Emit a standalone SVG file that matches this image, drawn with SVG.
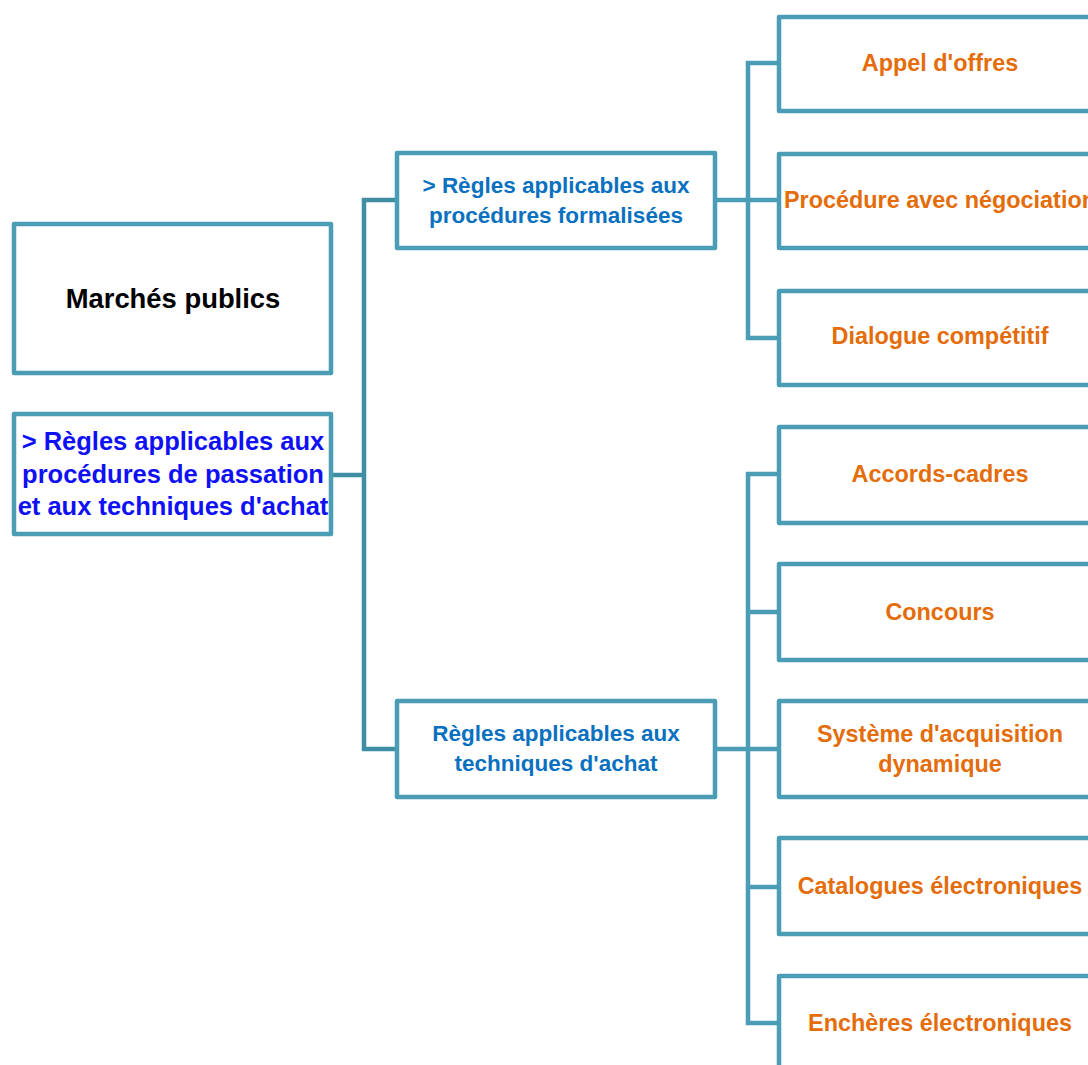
<svg xmlns="http://www.w3.org/2000/svg" width="1088" height="1065" viewBox="0 0 1088 1065">
<style>
.box{fill:#ffffff;stroke:#4a9db5;stroke-width:4.5;stroke-linejoin:round}
.ln{fill:none;stroke:#4a9db5;stroke-width:4.5;stroke-linejoin:miter}
.ln2{fill:none;stroke:#3f8ea3;stroke-width:4.5}
text{font-family:"Liberation Sans",Arial,sans-serif;font-weight:bold;text-anchor:middle}
.k{fill:#000000;font-size:27.4px}
.b{fill:#1010f5;font-size:25.5px}
.m{fill:#0a70c0;font-size:22.5px}
.o{fill:#e46c0a;font-size:23.4px}
</style>
<rect width="1088" height="1065" fill="#ffffff"/>
<g id="connectors">
<path class="ln2" d="M331,475 H364 M364,198 V751 M362,200 H397 M362,749 H397"/>
<path class="ln" d="M715,200 H748 M748,61 V340 M746,63 H779 M748,200 H779 M746,338 H779"/>
<path class="ln" d="M715,749 H748 M748,472 V1025 M746,474 H779 M746,612 H779 M748,749 H779 M746,887 H779 M746,1023 H779"/>
</g>
<g id="n-marches"><rect class="box" x="14" y="224" width="317" height="149"/><text class="k" x="173" y="308">Marchés publics</text></g>
<g id="n-regles"><rect class="box" x="14" y="414" width="317" height="120"/><text class="b" x="173" y="450">&gt; Règles applicables aux</text><text class="b" x="173" y="483">procédures de passation</text><text class="b" x="173" y="515">et aux techniques d'achat</text></g>
<g id="n-formalisees"><rect class="box" x="397" y="153" width="318" height="95"/><text class="m" x="556" y="193">&gt; Règles applicables aux</text><text class="m" x="556" y="223">procédures formalisées</text></g>
<g id="n-techniques"><rect class="box" x="397" y="701" width="318" height="96"/><text class="m" x="556" y="741">Règles applicables aux</text><text class="m" x="556" y="771">techniques d'achat</text></g>
<g id="n-appel"><rect class="box" x="779" y="17" width="322" height="94"/><text class="o" x="940" y="71">Appel d'offres</text></g>
<g id="n-procedure"><rect class="box" x="779" y="154" width="322" height="94"/><text class="o" x="940" y="208">Procédure avec négociation</text></g>
<g id="n-dialogue"><rect class="box" x="779" y="291" width="322" height="94"/><text class="o" x="940" y="344">Dialogue compétitif</text></g>
<g id="n-accords"><rect class="box" x="779" y="427" width="322" height="96"/><text class="o" x="940" y="482">Accords-cadres</text></g>
<g id="n-concours"><rect class="box" x="779" y="564" width="322" height="96"/><text class="o" x="940" y="620">Concours</text></g>
<g id="n-systeme"><rect class="box" x="779" y="701" width="322" height="96"/><text class="o" x="940" y="742">Système d'acquisition</text><text class="o" x="940" y="772">dynamique</text></g>
<g id="n-catalogues"><rect class="box" x="779" y="838" width="322" height="96"/><text class="o" x="940" y="894">Catalogues électroniques</text></g>
<g id="n-encheres"><rect class="box" x="779" y="976" width="322" height="96"/><text class="o" x="940" y="1031">Enchères électroniques</text></g>
</svg>
